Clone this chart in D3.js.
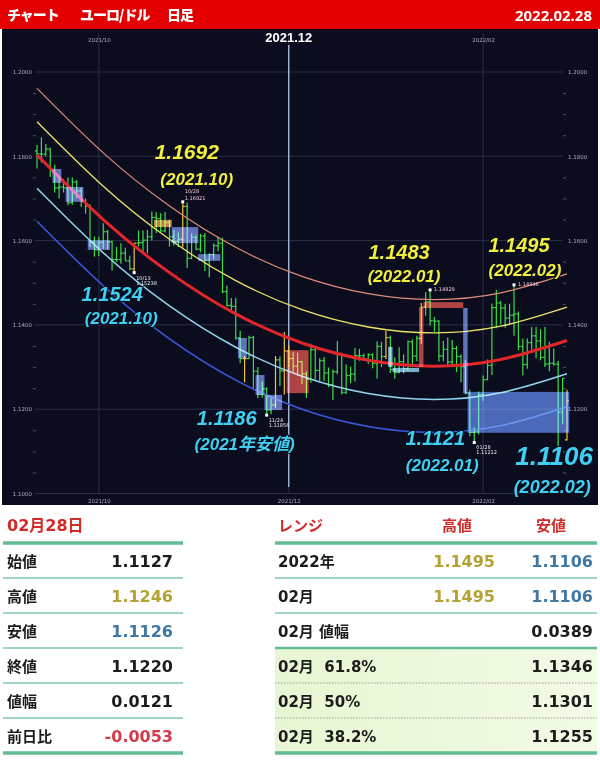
<!DOCTYPE html>
<html>
<head>
<meta charset="utf-8">
<script src="https://cdn.jsdelivr.net/npm/d3@7"></script>
<style>
  body { margin: 0; background: #fff; }
  svg { display: block; }
  .pre { white-space: pre; }
</style>
</head>
<body>
<svg id="c" width="600" height="760"></svg>
<script>
// ---------- data ----------
// EUR/USD daily bars: date, open, high, low, close
const ohlc = [
["2021-09-13",1.1813,1.1827,1.1771,1.1806],
["2021-09-14",1.1806,1.1845,1.1785,1.1805],
["2021-09-15",1.1805,1.1829,1.1800,1.1817],
["2021-09-16",1.1817,1.1820,1.1751,1.1765],
["2021-09-17",1.1765,1.1780,1.1714,1.1725],
["2021-09-20",1.1725,1.1752,1.1700,1.1727],
["2021-09-21",1.1727,1.1746,1.1714,1.1725],
["2021-09-22",1.1725,1.1750,1.1684,1.1690],
["2021-09-23",1.1690,1.1750,1.1685,1.1739],
["2021-09-24",1.1739,1.1744,1.1701,1.1718],
["2021-09-27",1.1718,1.1726,1.1680,1.1694],
["2021-09-28",1.1694,1.1700,1.1664,1.1682],
["2021-09-29",1.1682,1.1686,1.1585,1.1597],
["2021-09-30",1.1597,1.1610,1.1562,1.1578],
["2021-10-01",1.1578,1.1609,1.1563,1.1596],
["2021-10-04",1.1596,1.1641,1.1580,1.1621],
["2021-10-05",1.1621,1.1625,1.1578,1.1597],
["2021-10-06",1.1597,1.1600,1.1529,1.1555],
["2021-10-07",1.1555,1.1585,1.1550,1.1555],
["2021-10-08",1.1555,1.1594,1.1545,1.1570],
["2021-10-11",1.1570,1.1583,1.1552,1.1552],
["2021-10-12",1.1552,1.1564,1.1530,1.1533],
["2021-10-13",1.1533,1.1594,1.1524,1.1594],
["2021-10-14",1.1594,1.1624,1.1586,1.1595],
["2021-10-15",1.1595,1.1624,1.1571,1.1601],
["2021-10-18",1.1601,1.1625,1.1570,1.1609],
["2021-10-19",1.1609,1.1669,1.1600,1.1655],
["2021-10-20",1.1655,1.1667,1.1618,1.1652],
["2021-10-21",1.1652,1.1665,1.1621,1.1623],
["2021-10-22",1.1623,1.1668,1.1619,1.1643],
["2021-10-25",1.1643,1.1650,1.1586,1.1609],
["2021-10-26",1.1609,1.1625,1.1588,1.1598],
["2021-10-27",1.1598,1.1620,1.1585,1.1603],
["2021-10-28",1.1603,1.1692,1.1583,1.1681],
["2021-10-29",1.1681,1.1690,1.1535,1.1558],
["2021-11-01",1.1558,1.1617,1.1556,1.1608],
["2021-11-02",1.1608,1.1612,1.1577,1.1580],
["2021-11-03",1.1580,1.1616,1.1572,1.1611],
["2021-11-04",1.1611,1.1618,1.1528,1.1553],
["2021-11-05",1.1553,1.1570,1.1513,1.1567],
["2021-11-08",1.1567,1.1593,1.1555,1.1588],
["2021-11-09",1.1588,1.1609,1.1575,1.1594],
["2021-11-10",1.1594,1.1607,1.1475,1.1479],
["2021-11-11",1.1479,1.1493,1.1444,1.1446],
["2021-11-12",1.1446,1.1464,1.1432,1.1444],
["2021-11-15",1.1444,1.1464,1.1365,1.1369],
["2021-11-16",1.1369,1.1386,1.1309,1.1320],
["2021-11-17",1.1320,1.1326,1.1264,1.1320],
["2021-11-18",1.1320,1.1374,1.1319,1.1370],
["2021-11-19",1.1370,1.1374,1.1249,1.1290],
["2021-11-22",1.1290,1.1300,1.1226,1.1235],
["2021-11-23",1.1235,1.1266,1.1228,1.1248],
["2021-11-24",1.1248,1.1252,1.1186,1.1198],
["2021-11-25",1.1198,1.1229,1.1188,1.1210],
["2021-11-26",1.1210,1.1326,1.1203,1.1317],
["2021-11-29",1.1317,1.1325,1.1255,1.1291],
["2021-11-30",1.1291,1.1383,1.1235,1.1338],
["2021-12-01",1.1338,1.1352,1.1300,1.1320],
["2021-12-02",1.1320,1.1336,1.1289,1.1302],
["2021-12-03",1.1302,1.1334,1.1279,1.1313],
["2021-12-06",1.1313,1.1315,1.1260,1.1284],
["2021-12-07",1.1284,1.1290,1.1227,1.1271],
["2021-12-08",1.1271,1.1355,1.1263,1.1341],
["2021-12-09",1.1341,1.1343,1.1270,1.1292],
["2021-12-10",1.1292,1.1321,1.1265,1.1315],
["2021-12-13",1.1315,1.1324,1.1267,1.1286],
["2021-12-14",1.1286,1.1299,1.1252,1.1258],
["2021-12-15",1.1258,1.1295,1.1222,1.1289],
["2021-12-16",1.1289,1.1362,1.1283,1.1330],
["2021-12-17",1.1330,1.1334,1.1235,1.1240],
["2021-12-20",1.1240,1.1306,1.1236,1.1280],
["2021-12-21",1.1280,1.1301,1.1262,1.1283],
["2021-12-22",1.1283,1.1345,1.1266,1.1327],
["2021-12-23",1.1327,1.1343,1.1315,1.1327],
["2021-12-24",1.1327,1.1332,1.1316,1.1318],
["2021-12-27",1.1318,1.1333,1.1308,1.1329],
["2021-12-28",1.1329,1.1333,1.1297,1.1309],
["2021-12-29",1.1309,1.1361,1.1273,1.1349],
["2021-12-30",1.1349,1.1360,1.1300,1.1325],
["2021-12-31",1.1325,1.1386,1.1319,1.1370],
["2022-01-03",1.1370,1.1375,1.1286,1.1294],
["2022-01-04",1.1294,1.1323,1.1272,1.1287],
["2022-01-05",1.1287,1.1347,1.1285,1.1313],
["2022-01-06",1.1313,1.1330,1.1285,1.1296],
["2022-01-07",1.1296,1.1363,1.1292,1.1360],
["2022-01-10",1.1360,1.1366,1.1300,1.1326],
["2022-01-11",1.1326,1.1374,1.1314,1.1368],
["2022-01-12",1.1368,1.1452,1.1355,1.1442],
["2022-01-13",1.1442,1.1478,1.1422,1.1455],
["2022-01-14",1.1455,1.1483,1.1398,1.1410],
["2022-01-17",1.1410,1.1419,1.1384,1.1409],
["2022-01-18",1.1409,1.1411,1.1313,1.1326],
["2022-01-19",1.1326,1.1362,1.1314,1.1342],
["2022-01-20",1.1342,1.1370,1.1301,1.1312],
["2022-01-21",1.1312,1.1364,1.1302,1.1344],
["2022-01-24",1.1344,1.1350,1.1288,1.1325],
["2022-01-25",1.1325,1.1330,1.1264,1.1301],
["2022-01-26",1.1301,1.1317,1.1235,1.1238],
["2022-01-27",1.1238,1.1246,1.1136,1.1145],
["2022-01-28",1.1145,1.1157,1.1121,1.1146],
["2022-01-31",1.1146,1.1242,1.1140,1.1235],
["2022-02-01",1.1235,1.1280,1.1220,1.1270],
["2022-02-02",1.1270,1.1318,1.1269,1.1304],
["2022-02-03",1.1304,1.1451,1.1281,1.1441],
["2022-02-04",1.1441,1.1483,1.1392,1.1452],
["2022-02-07",1.1452,1.1457,1.1401,1.1440],
["2022-02-08",1.1440,1.1450,1.1393,1.1416],
["2022-02-09",1.1416,1.1450,1.1402,1.1423],
["2022-02-10",1.1423,1.1495,1.1374,1.1426],
["2022-02-11",1.1426,1.1432,1.1340,1.1349],
["2022-02-14",1.1349,1.1367,1.1280,1.1306],
["2022-02-15",1.1306,1.1368,1.1296,1.1358],
["2022-02-16",1.1358,1.1395,1.1341,1.1374],
["2022-02-17",1.1374,1.1395,1.1321,1.1362],
["2022-02-18",1.1362,1.1390,1.1316,1.1323],
["2022-02-21",1.1323,1.1395,1.1300,1.1307],
["2022-02-22",1.1307,1.1360,1.1290,1.1309],
["2022-02-23",1.1309,1.1344,1.1303,1.1307],
["2022-02-24",1.1307,1.1315,1.1106,1.1193],
["2022-02-25",1.1193,1.1274,1.1164,1.1273],
["2022-02-28",1.1127,1.1246,1.1126,1.1220]
];

// days drawn in the amber colour
const amberDays = ["2021-10-13","2021-10-28","2021-11-17","2021-11-26","2021-11-30",
                   "2021-12-01","2021-12-31","2022-01-12","2022-02-28"];

// regression channel: centre line and bands, sampled on these days
const channelDays = ["2021-09-13","2021-10-04","2021-10-25","2021-11-15","2021-12-06",
                     "2021-12-27","2022-01-17","2022-02-07","2022-02-28"];
const bandUpper2 = [1.1961,1.1808,1.1682,1.1584,1.1515,1.1474,1.1460,1.1476,1.1521];
const bandUpper1 = [1.1882,1.1729,1.1603,1.1505,1.1436,1.1395,1.1381,1.1397,1.1442];
const bandCenter = [1.1803,1.1650,1.1524,1.1426,1.1357,1.1316,1.1302,1.1318,1.1363];
const bandLower1 = [1.1724,1.1571,1.1445,1.1347,1.1278,1.1237,1.1223,1.1239,1.1284];
const bandLower2 = [1.1646,1.1493,1.1367,1.1269,1.1200,1.1159,1.1145,1.1161,1.1206];

// range boxes: first day, last day, top, bottom, kind
const boxes = [
  ["2021-09-17","2021-09-20",1.1770,1.1737,"down"],
  ["2021-09-22","2021-09-27",1.1727,1.1692,"down"],
  ["2021-09-29","2021-10-05",1.1601,1.1578,"down"],
  ["2021-10-20","2021-10-25",1.1649,1.1632,"amber"],
  ["2021-10-26","2021-11-02",1.1632,1.1594,"down"],
  ["2021-11-03","2021-11-09",1.1568,1.1552,"down"],
  ["2021-11-16","2021-11-17",1.1369,1.1321,"down"],
  ["2021-11-22","2021-11-23",1.1281,1.1234,"down"],
  ["2021-11-24","2021-11-29",1.1234,1.1198,"down"],
  ["2021-12-01","2021-12-07",1.1340,1.1238,"up"],
  ["2022-01-03","2022-01-03",1.1348,1.1300,"light"],
  ["2022-01-04","2022-01-11",1.1298,1.1288,"light"],
  ["2022-01-12","2022-01-12",1.1442,1.1300,"up"],
  ["2022-01-13","2022-01-25",1.1454,1.1440,"up"],
  ["2022-01-26","2022-01-26",1.1440,1.1238,"down"],
  ["2022-01-27","2022-02-28",1.1241,1.1144,"range"]
];

// turning points: day, price, short tag, precise tag, year-month caption, high/low
// (a null tag is one that the caption covers, so it is not drawn)
const pivots = [
  ["2021-10-28",1.1692,"10/28","1.16921","(2021.10)","high"],
  ["2021-10-13",1.1524,"10/13","1.15238","(2021.10)","low"],
  ["2021-11-24",1.1186,"11/24","1.11856","(2021年安値)","low"],
  ["2022-01-14",1.1483,null,"1.14829","(2022.01)","high"],
  ["2022-02-10",1.1495,null,"1.14946","(2022.02)","high"],
  ["2022-01-28",1.1121,"01/28","1.11212","(2022.01)","low"],
  ["2022-02-24",1.1106,null,null,"(2022.02)","low"]
];

const priceTicks = [1.10,1.12,1.14,1.16,1.18,1.20];
const rightTicks = [1.12,1.14,1.16,1.18,1.20];
const monthTicks = ["2021-10-01","2021-12-01","2022-02-01"];
const monthLabels = ["2021/10","2021/12","2022/02"];

// header
const headerItems = ["チャート","ユーロ/ドル","日足"];
const headerDate = "2022.02.28";

// daily table
const dayTitle = "02月28日";
const dayLabels = ["始値","高値","安値","終値","値幅","前日比"];
const dayValues = [1.1127,1.1246,1.1126,1.1220,0.0121,-0.0053];
const dayKinds  = ["plain","high","low","plain","plain","neg"];

// range table
const rangeHeads  = ["レンジ","高値","安値"];
const rangeLabels = ["2022年","02月","02月 値幅","02月  61.8%","02月  50%","02月  38.2%"];
const rangeHighs  = [1.1495,1.1495,null,null,null,null];
const rangeLows   = [1.1106,1.1106,0.0389,1.1346,1.1301,1.1255];

// ---------- drawing ----------
const svg = d3.select("#c");
const CHART_T = 29, CHART_B = 505;

svg.append("rect").attr("width",600).attr("height",760).attr("fill","#fff");

// header bar
svg.append("rect").attr("x",0).attr("y",0).attr("width",600).attr("height",CHART_T).attr("fill","#e40000");
const headX = [7, 80, 167];
svg.selectAll("text.head").data(headerItems).join("text")
  .attr("class","head")
  .attr("x",(d,i)=>headX[i]).attr("y",20)
  .attr("fill","#fff").attr("font-family","'Noto Sans CJK JP'")
  .attr("font-weight",900).attr("font-size",14).attr("letter-spacing",-1)
  .text(d=>d);
svg.append("text").attr("x",592).attr("y",21).attr("text-anchor","end")
  .attr("fill","#fff").attr("font-family","'Noto Sans'").attr("font-weight",700)
  .attr("font-size",15).text(headerDate);

// chart panel
svg.append("rect").attr("x",2).attr("y",CHART_T).attr("width",596).attr("height",CHART_B-CHART_T)
  .attr("fill","#0b0d1f");

const x = d3.scalePoint().domain(ohlc.map(d=>d[0])).range([37,567]);
const step = x.step();
const y = d3.scaleLinear().domain([1.10,1.20]).range([493.5,72]);

const plot = svg.append("g");

// horizontal grid
plot.selectAll("line.hg").data(priceTicks).join("line")
  .attr("x1",35).attr("x2",563).attr("y1",d=>y(d)).attr("y2",d=>y(d))
  .attr("stroke","#2b2f47").attr("stroke-width",1);

// vertical grid at month starts
plot.selectAll("line.vg").data(monthTicks).join("line")
  .attr("x1",d=>x(d)).attr("x2",d=>x(d)).attr("y1",33).attr("y2",494)
  .attr("stroke","#2b2f47").attr("stroke-width",1);

// price axes, both sides
const fmt4 = d3.format(".4f");
const axisStyle = g => {
  g.select(".domain").remove();
  g.selectAll("text").attr("fill","#a8acbc").attr("font-size",5.5).attr("font-family","'DejaVu Sans'");
};
plot.append("g").attr("transform","translate(34,0)")
  .call(d3.axisLeft(y).tickValues(priceTicks).tickFormat(fmt4).tickSize(0).tickPadding(2))
  .call(axisStyle);
plot.append("g").attr("transform","translate(565,0)")
  .call(d3.axisRight(y).tickValues(rightTicks).tickFormat(fmt4).tickSize(0).tickPadding(3))
  .call(axisStyle);
const minor = d3.range(1.105,1.2,0.005).filter(v=>Math.abs(v*50-Math.round(v*50))>1e-6);
[33,563].forEach(px=>{
  plot.append("g").attr("transform",`translate(${px},0)`)
    .call(d3.axisRight(y).tickValues(minor).tickSize(3).tickFormat(""))
    .call(g=>{ g.select(".domain").remove(); g.selectAll("line").attr("stroke","#4a4f66"); });
});

// month axes
const monthFmt = d => monthLabels[monthTicks.indexOf(d)];
plot.append("g").attr("transform","translate(0,494)")
  .call(d3.axisBottom(x).tickValues(monthTicks).tickFormat(monthFmt).tickSize(0).tickPadding(5))
  .call(axisStyle);
plot.append("g").attr("transform","translate(0,42)")
  .call(d3.axisTop(x).tickValues([monthTicks[0],monthTicks[2]]).tickFormat(monthFmt).tickSize(0).tickPadding(0))
  .call(axisStyle);

// highlighted December line with its caption
plot.append("line").attr("x1",x(monthTicks[1])).attr("x2",x(monthTicks[1]))
  .attr("y1",45).attr("y2",487).attr("stroke","#a9c3e6").attr("stroke-width",1.3);
plot.append("text").attr("x",x(monthTicks[1])).attr("y",42).attr("text-anchor","middle")
  .attr("fill","#fff").attr("font-family","'Liberation Sans'").attr("font-weight",700)
  .attr("font-size",13).text("2021.12");

// OHLC bars
const amber = new Set(amberDays);
const bars = plot.append("g").attr("stroke-width",1.2);
ohlc.forEach(([d,o,h,l,c])=>{
  const cx = x(d), col = amber.has(d) ? "#f2c23c" : "#3fdc4a";
  const g = bars.append("g").attr("stroke",col);
  g.append("line").attr("x1",cx).attr("x2",cx).attr("y1",y(h)).attr("y2",y(l));
  g.append("line").attr("x1",cx-2).attr("x2",cx).attr("y1",y(o)).attr("y2",y(o));
  g.append("line").attr("x1",cx).attr("x2",cx+2).attr("y1",y(c)).attr("y2",y(c));
});

// regression channel
const line = d3.line().x(d=>x(d[0])).y(d=>y(d[1])).curve(d3.curveNatural);
const bands = [
  [bandUpper2,"#e08c78",1.2],
  [bandUpper1,"#ece46a",1.3],
  [bandCenter,"#e2262a",3],
  [bandLower1,"#8fd6ea",1.5],
  [bandLower2,"#3b5ae2",1.5]
];
bands.forEach(([vals,col,w])=>{
  plot.append("path").datum(channelDays.map((d,i)=>[d,vals[i]]))
    .attr("d",line).attr("fill","none").attr("stroke",col).attr("stroke-width",w);
});

// range boxes (screen-blended so the bars show through)
const boxColor = {down:"#6b7fd2", up:"#c84430", amber:"#d8963c", light:"#8ac4e6", range:"#4f72cc"};
plot.selectAll("rect.box").data(boxes).join("rect")
  .attr("x",d=>x(d[0])-step/2).attr("width",d=>x(d[1])-x(d[0])+step)
  .attr("y",d=>y(d[2])).attr("height",d=>y(d[3])-y(d[2]))
  .attr("fill",d=>boxColor[d[4]]).attr("fill-opacity",0.85)
  .style("mix-blend-mode","screen");

// turning-point markers and captions
const labelPos = {
  "2021-10-28":{dx:4,  dy:-43, sdx:14, sdy:-17, size:21, ssize:17},
  "2021-10-13":{dx:-22,dy:28,  sdx:-13,sdy:51,  size:20, ssize:17},
  "2021-11-24":{dx:-40,dy:10,  sdx:-22,sdy:35,  size:20, ssize:17},
  "2022-01-14":{dx:-31,dy:-31, sdx:-26,sdy:-8,  size:20, ssize:17},
  "2022-02-10":{dx:5,  dy:-33, sdx:11, sdy:-9,  size:20, ssize:17},
  "2022-01-28":{dx:-39,dy:3,   sdx:-32,sdy:29,  size:20, ssize:17},
  "2022-02-24":{dx:-4, dy:16,  sdx:-6, sdy:44,  size:26, ssize:18}
};
const ann = plot.append("g");
pivots.forEach(([d,v,tag,exact,cap,kind])=>{
  const px = x(d), py = y(v), p = labelPos[d];
  const col = kind==="high" ? "#f2ee3e" : "#3fd0f2";
  ann.append("rect").attr("x",px-1.5).attr("y",py-1.5).attr("width",3).attr("height",3).attr("fill","#fff");
  const tagY = kind==="high" ? (tag ? [-9,-2] : [null,1]) : [7,12];
  [tag,exact].forEach((t,i)=>{
    if (!t) return;
    ann.append("text").attr("x",px+(tag?2:4)).attr("y",py+tagY[i])
      .attr("fill",kind==="high"?"#f3c9d6":"#e8eef6").attr("font-size",5)
      .attr("font-family","'DejaVu Sans'").text(t);
  });
  ann.append("text").attr("x",px+p.dx).attr("y",py+p.dy).attr("text-anchor","middle")
    .attr("fill",col).attr("font-family","'Liberation Sans'").attr("font-weight",700)
    .attr("font-style","italic").attr("font-size",p.size)
    .attr("stroke","#0b0d1f").attr("stroke-width",2).attr("paint-order","stroke")
    .text(d3.format(".4f")(v));
  ann.append("text").attr("x",px+p.sdx).attr("y",py+p.sdy).attr("text-anchor","middle")
    .attr("fill",col).attr("font-family","'Liberation Sans','Noto Sans CJK JP'").attr("font-weight",700)
    .attr("font-style","italic").attr("font-size",p.ssize)
    .attr("stroke","#0b0d1f").attr("stroke-width",2).attr("paint-order","stroke")
    .text(cap);
});

// ---------- tables ----------
const ROW0 = 543, ROWH = 35;
const valColor = {plain:"#1c1c1c", high:"#b4a233", low:"#3f78a6", neg:"#d43a4a"};
const tableFont = "'DejaVu Sans','Noto Sans CJK JP'";
const fmtVal = v => v.toFixed(4);

// right table green block
const grad = svg.append("defs").append("linearGradient").attr("id","gr");
grad.append("stop").attr("offset","0%").attr("stop-color","#e7f6d2");
grad.append("stop").attr("offset","100%").attr("stop-color","#f2fbe6");
svg.append("rect").attr("x",275).attr("y",ROW0+3*ROWH).attr("width",322).attr("height",3*ROWH)
  .attr("fill","url(#gr)");

function hline(x1,x2,yy,w,col,dash){
  const l = svg.append("line").attr("x1",x1).attr("x2",x2).attr("y1",yy).attr("y2",yy)
    .attr("stroke",col).attr("stroke-width",w);
  if (dash) l.attr("stroke-dasharray",dash);
}

// left table
svg.append("text").attr("x",7).attr("y",531).attr("fill","#d02a2a")
  .attr("font-family",tableFont).attr("font-weight",700).attr("font-size",16).text(dayTitle);
hline(3,183,ROW0,3.5,"#62bc94");
dayLabels.forEach((lab,i)=>{
  const cy = ROW0 + ROWH*i + ROWH/2;
  svg.append("text").attr("x",7).attr("y",cy+6).attr("fill","#1c1c1c")
    .attr("font-family",tableFont).attr("font-weight",700).attr("font-size",15).text(lab);
  svg.append("text").attr("x",173).attr("y",cy+6).attr("text-anchor","end")
    .attr("fill",valColor[dayKinds[i]]).attr("font-family",tableFont).attr("font-weight",700)
    .attr("font-size",16).text(fmtVal(dayValues[i]));
  if (i < dayLabels.length-1) hline(3,183,ROW0+ROWH*(i+1),1.5,"#7cc7a8");
});
hline(3,183,ROW0+ROWH*dayLabels.length,3.5,"#62bc94");

// right table
const headPosX = [278, 457, 551];
rangeHeads.forEach((h,i)=>{
  svg.append("text").attr("x",headPosX[i]).attr("y",531)
    .attr("text-anchor",i===0?"start":"middle").attr("fill","#d02a2a")
    .attr("font-family","'Noto Sans CJK JP'").attr("font-weight",700).attr("font-size",15).text(h);
});
hline(275,597,ROW0,3.5,"#62bc94");
rangeLabels.forEach((lab,i)=>{
  const cy = ROW0 + ROWH*i + ROWH/2;
  svg.append("text").attr("class","pre").attr("x",278).attr("y",cy+6).attr("fill","#1c1c1c")
    .attr("font-family",tableFont).attr("font-weight",700).attr("font-size",15).text(lab);
  if (rangeHighs[i] !== null)
    svg.append("text").attr("x",495).attr("y",cy+6).attr("text-anchor","end")
      .attr("fill",valColor.high).attr("font-family",tableFont).attr("font-weight",700)
      .attr("font-size",16).text(fmtVal(rangeHighs[i]));
  svg.append("text").attr("x",593).attr("y",cy+6).attr("text-anchor","end")
    .attr("fill", i<2 ? valColor.low : valColor.plain).attr("font-family",tableFont)
    .attr("font-weight",700).attr("font-size",16).text(fmtVal(rangeLows[i]));
  if (i < rangeLabels.length-1) {
    const yy = ROW0+ROWH*(i+1);
    if (i===2) hline(275,597,yy,2.5,"#62bc94");
    else if (i>2) hline(275,597,yy,1,"#9a9a9a","1.5,1.5");
    else hline(275,597,yy,1.5,"#7cc7a8");
  }
});
hline(275,597,ROW0+ROWH*rangeLabels.length,3.5,"#62bc94");
</script>
</body>
</html>
